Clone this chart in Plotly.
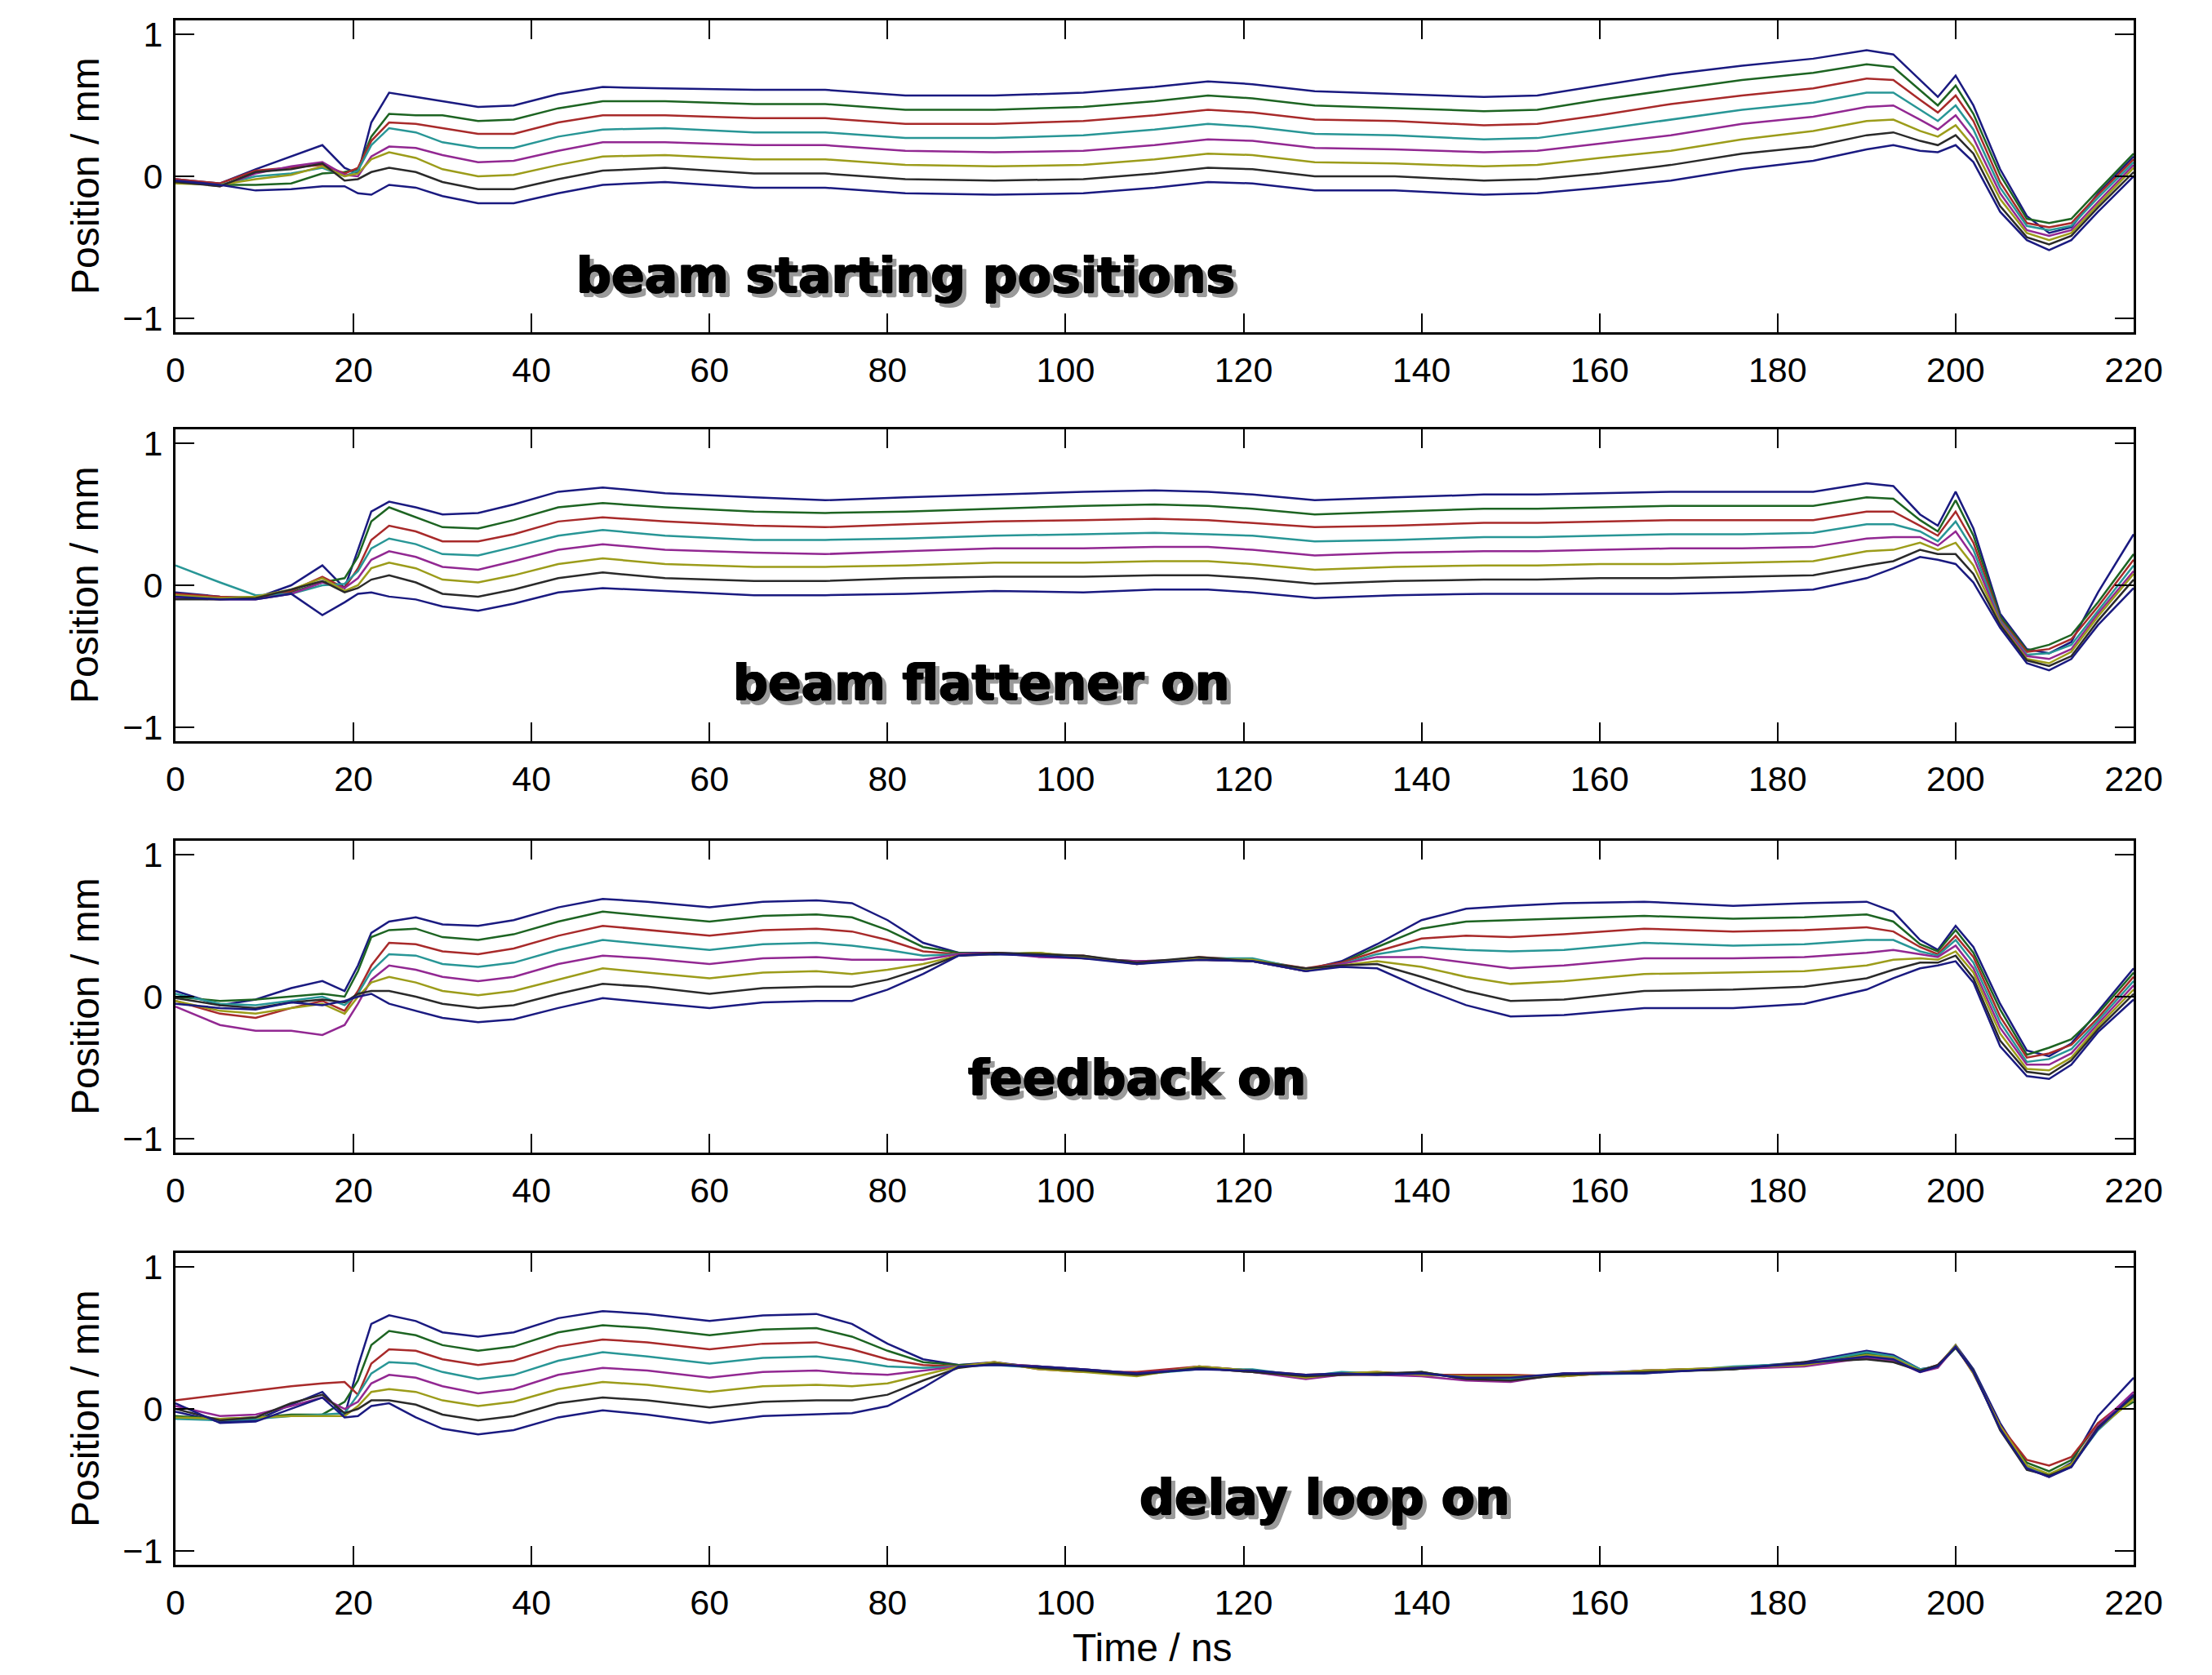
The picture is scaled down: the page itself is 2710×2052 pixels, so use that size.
import plotly.graph_objects as go

# ---------------- data ----------------
XTICKS = [0, 20, 40, 60, 80, 100, 120, 140, 160, 180, 200, 220]
YTICKS = [-1, 0, 1]
PANEL_TITLES = ["beam starting positions", "beam flattener on", "feedback on", "delay loop on"]
X_LABEL = "Time / ns"
Y_LABEL = "Position / mm"

T1 = [0, 5, 9, 13, 16.5, 19, 20.5, 22, 24, 27, 30, 34, 38, 43, 48, 55, 65, 73, 82, 92, 102, 110, 116, 121,
      128, 137, 147, 153, 160, 168, 176, 184, 190, 193, 196, 198, 200, 202, 205, 208, 210.5, 213, 216, 220]
P1_L1 = [-.02, -.05, .05, .14, .22, .06, .02, .38, .59, .56, .53, .49, .50, .58, .63, .62, .61, .61, .57, .57, .59, .63, .67, .65,
         .60, .58, .56, .57, .64, .72, .78, .83, .89, .86, .68, .56, .71, .50, .05, -.28, -.40, -.36, -.12, .14]
P1_L2 = [-.03, -.06, -.06, -.05, .02, .03, .05, .28, .44, .43, .43, .39, .40, .48, .53, .53, .51, .51, .47, .47, .49, .53, .57, .55,
         .50, .48, .46, .47, .54, .61, .68, .73, .79, .77, .61, .50, .64, .44, .01, -.30, -.33, -.30, -.10, .16]
P1_L3 = [-.02, -.05, .04, .06, .08, .02, .06, .25, .38, .37, .34, .30, .30, .38, .43, .43, .41, .41, .37, .37, .39, .43, .47, .45,
         .40, .39, .36, .37, .43, .51, .57, .62, .69, .68, .54, .45, .57, .39, -.04, -.33, -.36, -.33, -.13, .12]
P1_L4 = [-.04, -.06, .00, .02, .06, .00, .04, .22, .34, .31, .24, .20, .20, .28, .33, .34, .31, .31, .27, .27, .29, .33, .37, .35,
         .30, .29, .26, .27, .33, .40, .47, .52, .59, .59, .47, .39, .50, .33, -.08, -.35, -.38, -.35, -.15, .10]
P1_L5 = [-.03, -.07, .02, .07, .10, .01, .00, .14, .21, .20, .15, .10, .11, .18, .24, .24, .22, .22, .18, .17, .18, .22, .26, .25,
         .20, .19, .17, .18, .23, .29, .37, .42, .49, .50, .40, .33, .43, .27, -.12, -.38, -.42, -.38, -.18, .08]
P1_L6 = [-.05, -.06, -.02, .01, .07, .00, .02, .12, .17, .13, .05, .00, .01, .08, .14, .15, .12, .12, .08, .07, .08, .12, .16, .15,
         .10, .09, .07, .08, .13, .18, .26, .32, .39, .40, .32, .28, .36, .21, -.16, -.40, -.45, -.40, -.20, .06]
P1_L7 = [-.04, -.07, .03, .05, .09, -.03, -.02, .03, .06, .03, -.04, -.09, -.09, -.02, .04, .06, .02, .02, -.02, -.03, -.02, .02, .06, .05,
         .00, .00, -.03, -.02, .02, .08, .16, .21, .29, .31, .25, .22, .29, .16, -.21, -.43, -.48, -.42, -.22, .03]
P1_L8 = [-.03, -.06, -.10, -.09, -.07, -.07, -.12, -.13, -.06, -.08, -.14, -.19, -.19, -.12, -.06, -.04, -.08, -.08, -.12, -.13, -.12, -.08, -.04, -.05,
         -.10, -.10, -.13, -.12, -.08, -.03, .05, .11, .19, .22, .18, .17, .22, .10, -.25, -.45, -.52, -.45, -.25, .00]

T2 = [0, 5, 9, 13, 16.5, 19, 20.5, 22, 24, 27, 30, 34, 38, 43, 48, 55, 65, 73, 82, 92, 102, 110, 116, 121,
      128, 137, 147, 153, 160, 168, 176, 184, 190, 193, 196, 198, 200, 202, 205, 208, 210.5, 213, 216, 220]
P2_L1 = [-.05, -.08, -.09, .00, .14, -.02, .25, .52, .59, .55, .50, .51, .57, .66, .69, .65, .62, .60, .62, .64, .66, .67, .66, .64,
         .60, .62, .64, .64, .65, .66, .66, .66, .72, .70, .50, .42, .66, .40, -.20, -.45, -.48, -.40, -.05, .36]
P2_L2 = [-.08, -.09, -.08, -.05, .02, .05, .20, .45, .55, .48, .41, .40, .46, .55, .58, .55, .52, .51, .52, .54, .56, .57, .56, .54,
         .50, .52, .54, .54, .55, .56, .56, .56, .62, .61, .46, .38, .60, .35, -.22, -.46, -.42, -.35, -.12, .22]
P2_L3 = [-.06, -.08, -.09, -.04, .06, -.02, .12, .32, .42, .38, .31, .31, .36, .45, .48, .45, .42, .41, .43, .45, .46, .47, .46, .44,
         .41, .42, .44, .44, .45, .46, .46, .46, .52, .52, .42, .35, .52, .30, -.24, -.47, -.45, -.38, -.15, .18]
P2_L4 = [.14, .02, -.07, -.06, .00, .01, .10, .26, .33, .29, .22, .21, .27, .35, .39, .35, .32, .32, .33, .35, .36, .37, .36, .35,
         .31, .32, .34, .34, .35, .36, .36, .37, .43, .43, .38, .31, .45, .25, -.25, -.49, -.48, -.42, -.18, .14]
P2_L5 = [-.09, -.10, -.10, -.06, .02, -.02, .05, .18, .24, .20, .13, .11, .17, .25, .29, .25, .23, .22, .24, .26, .26, .27, .27, .25,
         .21, .23, .24, .24, .25, .26, .26, .27, .33, .34, .34, .28, .38, .20, -.26, -.50, -.52, -.45, -.20, .10]
P2_L6 = [-.07, -.09, -.08, -.03, .05, -.04, .00, .12, .16, .12, .04, .02, .07, .15, .19, .15, .13, .13, .14, .16, .16, .17, .17, .15,
         .11, .13, .14, .14, .15, .15, .16, .17, .24, .25, .30, .25, .30, .14, -.27, -.52, -.55, -.47, -.22, .08]
P2_L7 = [-.10, -.10, -.09, -.03, .03, -.05, -.02, .04, .07, .02, -.06, -.08, -.03, .05, .09, .05, .03, .03, .05, .06, .06, .07, .07, .05,
         .01, .03, .04, .04, .05, .05, .06, .07, .14, .17, .25, .22, .22, .08, -.28, -.53, -.57, -.50, -.25, .04]
P2_L8 = [-.08, -.10, -.10, -.06, -.21, -.12, -.06, -.05, -.08, -.10, -.15, -.18, -.13, -.05, -.02, -.04, -.07, -.07, -.06, -.04, -.05, -.03, -.03, -.05,
         -.09, -.07, -.06, -.06, -.06, -.06, -.05, -.03, .05, .12, .20, .18, .15, .02, -.30, -.55, -.60, -.52, -.28, -.02]

T3 = [0, 5, 9, 13, 16.5, 19, 20.5, 22, 24, 27, 30, 34, 38, 43, 48, 53, 60, 66, 72, 76, 80, 84, 88, 92, 97,
      102, 108, 115, 121, 127, 131, 135, 140, 145, 150, 156, 165, 175, 183, 190, 193, 196, 198, 200, 202, 205, 208, 210.5, 213, 216, 220]
P3_L1 = [.04, -.06, -.02, .06, .11, .04, .22, .45, .53, .56, .51, .50, .54, .63, .69, .67, .63, .67, .68, .66, .54, .38, .31, .31, .30,
         .28, .24, .27, .26, .19, .25, .37, .54, .62, .64, .66, .67, .64, .66, .67, .60, .40, .33, .50, .35, -.05, -.38, -.42, -.33, -.10, .20]
P3_L2 = [.00, -.03, -.02, .00, .02, .00, .18, .42, .47, .48, .42, .40, .44, .53, .60, .57, .53, .57, .58, .56, .47, .35, .31, .30, .31,
         .27, .25, .26, .25, .18, .24, .35, .48, .53, .54, .55, .57, .55, .56, .58, .53, .37, .32, .47, .31, -.09, -.41, -.36, -.30, -.12, .17]
P3_L3 = [-.03, -.12, -.15, -.08, -.03, -.10, .04, .22, .38, .37, .32, .30, .34, .43, .50, .47, .43, .47, .48, .46, .40, .32, .30, .31, .29,
         .29, .23, .28, .26, .20, .24, .32, .41, .43, .42, .44, .48, .46, .47, .49, .46, .35, .30, .43, .28, -.14, -.43, -.40, -.34, -.15, .14]
P3_L4 = [.02, -.05, -.06, -.03, .00, -.06, .02, .18, .30, .29, .23, .21, .24, .33, .40, .37, .33, .37, .38, .36, .33, .29, .30, .30, .30,
         .28, .24, .27, .27, .19, .23, .30, .35, .33, .32, .33, .38, .36, .37, .40, .40, .32, .29, .40, .24, -.18, -.46, -.44, -.37, -.17, .11]
P3_L5 = [-.07, -.20, -.24, -.24, -.27, -.20, -.05, .12, .22, .19, .14, .11, .14, .23, .29, .27, .23, .27, .28, .26, .26, .26, .30, .31, .28,
         .27, .25, .26, .25, .18, .23, .28, .28, .24, .20, .22, .27, .27, .28, .31, .33, .30, .28, .36, .20, -.22, -.48, -.48, -.40, -.19, .08]
P3_L6 = [-.03, -.10, -.12, -.08, -.05, -.12, .00, .10, .14, .10, .04, .01, .04, .12, .20, .17, .13, .17, .18, .16, .19, .23, .29, .30, .31,
         .28, .23, .27, .26, .19, .22, .25, .21, .14, .09, .11, .16, .17, .18, .22, .26, .27, .26, .32, .17, -.26, -.51, -.52, -.43, -.21, .05]
P3_L7 = [-.01, -.06, -.08, -.04, -.02, -.04, .02, .04, .04, .00, -.05, -.08, -.06, .02, .09, .07, .02, .06, .07, .07, .12, .20, .29, .31, .30,
         .29, .24, .28, .25, .20, .22, .23, .14, .04, -.03, -.02, .04, .05, .07, .13, .19, .24, .24, .29, .13, -.31, -.53, -.55, -.45, -.23, .02]
P3_L8 = [-.05, -.08, -.09, -.04, -.06, -.03, .00, .02, -.05, -.10, -.15, -.18, -.16, -.08, -.01, -.04, -.08, -.04, -.03, -.03, .05, .16, .29, .30, .29,
         .27, .23, .26, .25, .18, .21, .20, .06, -.06, -.14, -.13, -.08, -.08, -.05, .05, .13, .20, .22, .25, .10, -.35, -.56, -.58, -.48, -.25, -.02]

T4 = [0, 5, 9, 13, 16.5, 19, 20.5, 22, 24, 27, 30, 34, 38, 43, 48, 53, 60, 66, 72, 76, 80, 84, 88, 92, 97,
      102, 108, 115, 121, 127, 131, 135, 140, 145, 150, 156, 165, 175, 183, 190, 193, 196, 198, 200, 202, 205, 208, 210.5, 213, 216, 220]
P4_L1 = [-.02, -.09, -.08, .03, .12, -.05, .30, .60, .66, .62, .54, .51, .54, .64, .69, .67, .62, .66, .67, .60, .46, .35, .31, .33, .29,
         .27, .24, .30, .27, .23, .25, .25, .25, .23, .22, .24, .27, .29, .33, .41, .38, .28, .30, .45, .28, -.10, -.40, -.47, -.38, -.05, .22]
P4_L2 = [-.05, -.07, -.06, -.04, -.04, .05, .20, .45, .55, .52, .45, .41, .44, .54, .59, .57, .52, .56, .57, .51, .41, .33, .31, .32, .30,
         .28, .25, .29, .26, .22, .24, .24, .26, .21, .20, .25, .26, .28, .32, .39, .36, .27, .30, .44, .26, -.13, -.38, -.44, -.36, -.10, .05]
P4_L3 = [.06, .10, .13, .16, .18, .19, .10, .32, .42, .41, .35, .31, .34, .44, .49, .47, .42, .46, .47, .42, .35, .31, .30, .33, .28,
         .26, .26, .30, .27, .24, .25, .26, .24, .24, .24, .23, .27, .29, .31, .37, .35, .27, .31, .44, .25, -.12, -.36, -.40, -.34, -.10, .10]
P4_L4 = [-.07, -.08, -.07, -.05, -.04, -.03, .10, .25, .33, .32, .26, .21, .24, .34, .40, .37, .32, .36, .37, .34, .30, .29, .30, .31, .29,
         .27, .24, .28, .28, .23, .26, .25, .25, .22, .21, .24, .25, .30, .32, .40, .37, .28, .30, .43, .27, -.14, -.41, -.46, -.40, -.15, .08]
P4_L5 = [.02, -.05, -.04, .02, .08, .00, .05, .18, .24, .22, .16, .11, .14, .24, .29, .27, .22, .26, .27, .25, .24, .27, .30, .32, .30,
         .28, .25, .29, .26, .21, .24, .24, .23, .20, .19, .25, .26, .28, .30, .36, .34, .26, .29, .44, .26, -.13, -.42, -.48, -.40, -.12, .12]
P4_L6 = [-.06, -.07, -.06, -.05, -.05, -.05, .02, .12, .14, .12, .06, .02, .05, .14, .19, .17, .12, .16, .17, .16, .18, .24, .30, .33, .28,
         .26, .23, .30, .27, .22, .25, .26, .24, .23, .23, .23, .27, .29, .31, .38, .36, .27, .30, .45, .25, -.12, -.40, -.46, -.39, -.14, .07]
P4_L7 = [.00, -.08, -.06, .04, .10, -.03, .00, .06, .06, .03, -.04, -.08, -.05, .04, .08, .06, .01, .05, .06, .06, .10, .20, .29, .32, .29,
         .27, .24, .29, .26, .23, .24, .25, .26, .21, .20, .24, .26, .28, .33, .35, .33, .27, .31, .43, .27, -.15, -.43, -.47, -.41, -.13, .09]
P4_L8 = [.04, -.10, -.09, .00, .08, -.06, -.05, .02, .04, -.06, -.14, -.18, -.15, -.06, -.01, -.04, -.10, -.05, -.04, -.03, .02, .15, .30, .31, .30,
         .28, .25, .28, .27, .24, .25, .24, .25, .22, .22, .25, .25, .29, .32, .37, .35, .26, .30, .44, .26, -.14, -.42, -.48, -.41, -.14, .10]

# ---------------- styling ----------------
LINE_COLORS = ["#1a1a80", "#1d6422", "#a82a2a", "#289696", "#922892", "#9c9c1a", "#2a2a2a", "#1a1a80"]
W, H = 2710, 2052
X_DOMAIN = [215 / W, 2614 / W]
PANEL_PX = [(25, 407), (526, 908), (1030, 1412), (1535, 1917)]  # top, bottom in px
TITLE_POS = [(1109, 337), (1202, 836), (1393, 1320), (1623, 1834)]
TICK_FONT = dict(family="Liberation Sans, Arial, Helvetica, sans-serif", size=43, color="black")
LABEL_FONT = dict(family="Liberation Sans, Arial, Helvetica, sans-serif", size=48, color="black")

panels = [
    (T1, [P1_L1, P1_L2, P1_L3, P1_L4, P1_L5, P1_L6, P1_L7, P1_L8]),
    (T2, [P2_L1, P2_L2, P2_L3, P2_L4, P2_L5, P2_L6, P2_L7, P2_L8]),
    (T3, [P3_L1, P3_L2, P3_L3, P3_L4, P3_L5, P3_L6, P3_L7, P3_L8]),
    (T4, [P4_L1, P4_L2, P4_L3, P4_L4, P4_L5, P4_L6, P4_L7, P4_L8]),
]

fig = go.Figure()
layout = dict(
    width=W, height=H, template="none",
    margin=dict(l=0, r=0, t=0, b=0),
    paper_bgcolor="white", plot_bgcolor="white",
    showlegend=False,
)
annotations = []

axis_common = dict(
    showline=True, linecolor="black", linewidth=3, mirror="ticks",
    ticks="inside", ticklen=23, tickwidth=2, tickcolor="black",
    showgrid=False, zeroline=False, tickfont=TICK_FONT, automargin=False,
)

for i, (t, lines) in enumerate(panels):
    sfx = "" if i == 0 else str(i + 1)
    for y, c in zip(lines, LINE_COLORS):
        fig.add_trace(go.Scatter(
            x=t, y=y, mode="lines", line=dict(color=c, width=2.5),
            xaxis="x" + sfx, yaxis="y" + sfx, hoverinfo="skip",
        ))
    top, bot = PANEL_PX[i]
    layout["xaxis" + sfx] = dict(
        axis_common, domain=X_DOMAIN, anchor="y" + sfx, range=[0, 220],
        tickmode="array", tickvals=XTICKS, ticklabelstandoff=6,
    )
    layout["yaxis" + sfx] = dict(
        axis_common, domain=[1 - bot / H, 1 - top / H], anchor="x" + sfx,
        range=[-1.1, 1.1], tickmode="array", tickvals=YTICKS, ticklabelstandoff=4,
    )
    # y axis label
    annotations.append(dict(
        text=Y_LABEL, xref="paper", yref="paper", x=104 / W, y=1 - (top + bot) / 2 / H,
        xanchor="center", yanchor="middle", textangle=-90, showarrow=False,
        font=LABEL_FONT,
    ))
    # panel title with drop shadow
    px, py = TITLE_POS[i]
    for dx, dy, col in [(5, -5, "#9a9a9a"), (0, 0, "black")]:
        annotations.append(dict(
            text=PANEL_TITLES[i], xref="paper", yref="paper", x=px / W, y=1 - py / H,
            xanchor="center", yanchor="middle", showarrow=False, xshift=dx, yshift=dy,
            font=dict(family="DejaVu Sans, Arial, sans-serif", size=60, color=col, weight="bold",
                      shadow="1px 0px 0px %s, -1px 0px 0px %s, 0px 1px 0px %s" % (col, col, col)),
        ))

annotations.append(dict(
    text=X_LABEL, xref="paper", yref="paper", x=1412 / W, y=1 - 2018 / H,
    xanchor="center", yanchor="middle", showarrow=False,
    font=LABEL_FONT,
))

layout["annotations"] = annotations
fig.update_layout(**layout)
fig.write_html("out.html", config={"displayModeBar": False},
               post_script="document.body.style.margin='0';")
